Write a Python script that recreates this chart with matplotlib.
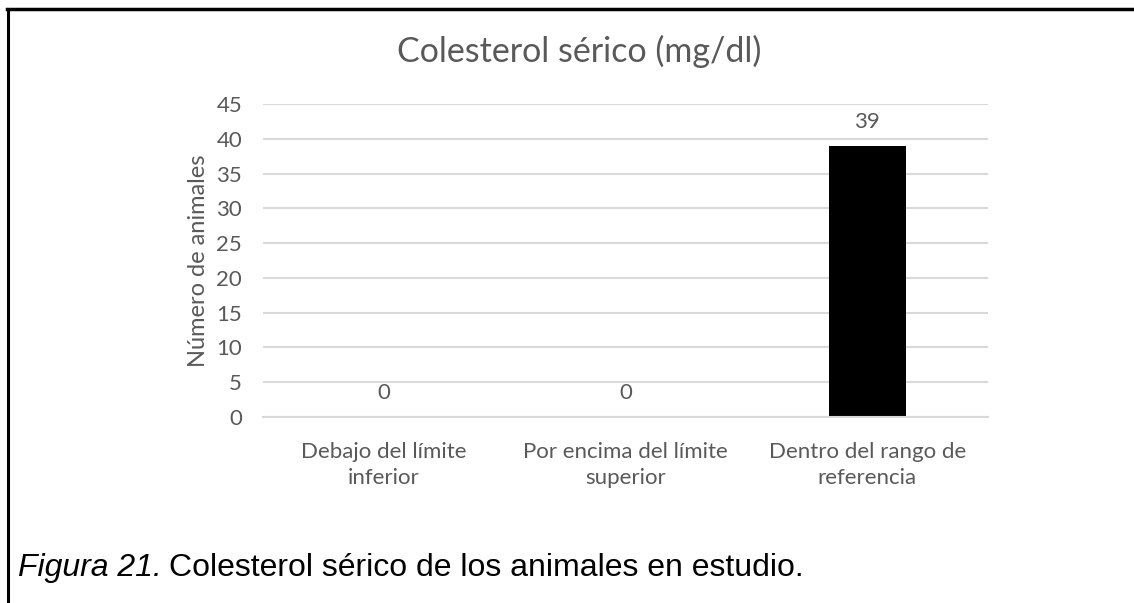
import matplotlib.pyplot as plt
from matplotlib.lines import Line2D

categorias = ['Debajo del límite\ninferior', 'Por encima del límite\nsuperior', 'Dentro del rango de\nreferencia']
animales = [0, 0, 39]
ticks_y = [0, 5, 10, 15, 20, 25, 30, 35, 40, 45]

gris = '#595959'
fuente = ['Lato', 'DejaVu Sans']
arial = ['Liberation Sans', 'DejaVu Sans']

fig = plt.figure(figsize=(11.34, 6.03), dpi=100)
ax = fig.add_axes([0.2319, 0.3085, 0.6394, 0.519])

x = range(len(categorias))
ax.bar(x, animales, width=0.32, color='black', zorder=3)
for xi, v in zip(x, animales):
    ax.text(xi, v + 3.4, str(v), ha='center', va='center', color=gris,
            fontsize=16, family=fuente)

ax.set_xlim(-0.5, 2.5)
ax.set_ylim(0, 45)
ax.set_yticks(ticks_y)
ax.set_xticks(list(x))
ax.set_xticklabels(categorias, family=fuente, fontsize=16, color=gris, linespacing=1.38)
for lab in ax.get_yticklabels():
    lab.set_family(fuente)
    lab.set_fontsize(16)
    lab.set_color(gris)
ax.tick_params(axis='both', length=0)
ax.tick_params(axis='y', pad=15)
ax.tick_params(axis='x', pad=18)
ax.grid(axis='y', color='#d9d9d9', linewidth=1.5, zorder=0)
for s in ['top', 'right', 'left']:
    ax.spines[s].set_visible(False)
ax.spines['bottom'].set_color('#d9d9d9')
ax.spines['bottom'].set_linewidth(1.5)
ax.spines['bottom'].set_zorder(4)

ax.set_ylabel('Número de animales', family=fuente, fontsize=17, color=gris, labelpad=5)

fig.text(0.5106, 0.914, 'Colesterol sérico (mg/dl)', ha='center', va='center',
         family=fuente, fontsize=24.5, color=gris)

# pie de figura: parte en cursiva y resto a continuación
t1 = fig.text(0.016, 0.058, 'Figura 21.', ha='left', va='center', style='italic',
              family=arial, fontsize=23, color='black')
fig.canvas.draw()
bb = t1.get_window_extent()
fig.text((bb.x1 + 7) / fig.bbox.width, 0.058, 'Colesterol sérico de los animales en estudio.',
         ha='left', va='center', family=arial, fontsize=23, color='black')

# marco superior e izquierdo
fig.add_artist(Line2D([7 / 1134, 1.0], [1 - 8.5 / 603, 1 - 8.5 / 603],
                      transform=fig.transFigure, color='black', linewidth=2.5))
fig.add_artist(Line2D([8 / 1134, 8 / 1134], [0.0, 1 - 8.5 / 603],
                      transform=fig.transFigure, color='black', linewidth=2.2))

fig.savefig('out.png', dpi=100)
